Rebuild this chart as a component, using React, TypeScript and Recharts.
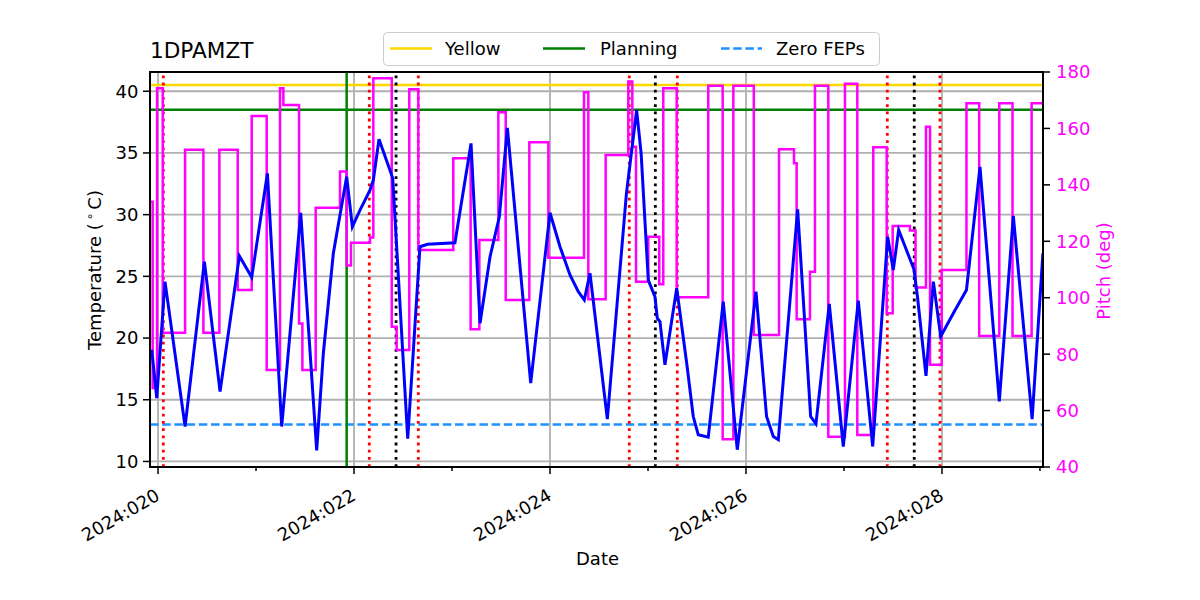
import React from 'react';
import { ComposedChart, Line, XAxis, YAxis, CartesianGrid, ReferenceLine } from 'recharts';

// ---- data (day of year 2024) ----
const tempDays = [
  19.936, 19.987, 20.071, 20.276, 20.473, 20.633, 20.83, 20.956, 21.116, 21.262,
  21.456, 21.619, 21.687, 21.789, 21.925, 21.983, 22.061, 22.163, 22.197, 22.255,
  22.367, 22.395, 22.548, 22.673, 22.75, 23.03, 23.194, 23.286, 23.388, 23.483,
  23.565, 23.803, 24.0, 24.102, 24.204, 24.289, 24.35, 24.408, 24.585, 24.78,
  24.884, 24.93, 25.003, 25.071, 25.095, 25.122, 25.173, 25.293, 25.395, 25.462,
  25.513, 25.615, 25.768, 25.911, 26.102, 26.21, 26.279, 26.33, 26.527, 26.66,
  26.714, 26.85, 26.993, 27.146, 27.293, 27.446, 27.503, 27.558, 27.714, 27.75,
  27.837, 27.912, 27.987, 28.116, 28.25, 28.388, 28.585, 28.728, 28.92, 29.03,
];
const tempValues = [
  19.04, 15.13, 24.57, 12.83, 26.19, 15.67, 26.65, 24.92, 33.34, 12.83,
  30.15, 10.89, 18.77, 26.87, 33.07, 29.02, 30.37, 31.99, 32.8, 36.12,
  33.6, 32.94, 11.84, 27.4, 27.6, 27.72, 35.77, 21.2, 26.59, 29.83,
  37.03, 16.35, 30.15, 27.4, 25.11, 23.76, 23.09, 25.25, 13.43, 31.72,
  38.46, 34.96, 24.7, 23.35, 21.6, 21.33, 17.83, 24.03, 17.96, 13.64,
  12.16, 11.97, 22.95, 10.95, 23.76, 13.64, 12.02, 11.76, 30.43, 13.64,
  13.05, 22.76, 11.21, 23.03, 11.21, 28.21, 25.51, 28.75, 25.57, 23.35,
  16.94, 24.57, 20.12, 22.01, 23.9, 33.87, 14.86, 29.89, 13.43, 26.87,
];

const pitchDays = [
  19.918, 19.945, 19.99, 20.048, 20.276, 20.463, 20.626, 20.813, 20.956, 21.109,
  21.245, 21.279, 21.439, 21.473, 21.609, 21.857, 21.925, 21.969, 22.163, 22.197,
  22.385, 22.435, 22.564, 22.656, 23.013, 23.19, 23.279, 23.473, 23.548, 23.789,
  23.983, 24.347, 24.391, 24.568, 24.799, 24.84, 24.878, 25.003, 25.115, 25.156,
  25.293, 25.615, 25.762, 25.871, 26.08, 26.337, 26.49, 26.517, 26.653, 26.704,
  26.84, 27.01, 27.136, 27.299, 27.436, 27.497, 27.673, 27.73, 27.837, 27.878,
  27.997, 28.25, 28.38, 28.585, 28.72, 28.915, 29.031,
];
const pitchValues = [
  134, 68, 174.2, 87.6, 152.4, 87.6, 152.4, 102.7, 164.4, 74.4,
  174.2, 168.3, 90.9, 74.4, 131.9, 144.7, 111.4, 119.5, 121.3, 177.8,
  89.7, 81.5, 173.9, 116.9, 149.4, 88.8, 120.5, 165.7, 99.2, 155.1,
  114.2, 172.8, 99.5, 150.6, 176.6, 153.5, 105.7, 121.6, 104.8, 174.2,
  100.2, 175.1, 49.8, 175.1, 86.8, 152.6, 147.7, 92.4, 109.2, 175.1,
  50.7, 175.8, 51.3, 153.3, 94.5, 125.4, 123.8, 103.6, 160.6, 76.2,
  109.8, 168.9, 86.4, 168.9, 86.4, 168.9, 168.9,
];

const xTicks = [20, 21, 22, 23, 24, 25, 26, 27, 28, 29];
const gridDays = [20, 22, 24, 26, 28];
const tempTicks = [10, 15, 20, 25, 30, 35, 40];
const pitchTicks = [40, 60, 80, 100, 120, 140, 160, 180];
const redEventDays = [20.054, 22.156, 22.656, 24.809, 25.299, 27.442, 27.98];
const blackEventDays = [22.429, 25.075, 27.717];
const planningDay = 21.925;
const yellowLimit = 40.5;
const planningLimit = 38.5;
const zeroFepsLimit = 13;

const xDomain = [19.918, 29.031];
const tempDomain = [9.55, 41.56];
const pitchDomain = [40, 180];

const tempData = tempDays.map((d, i) => ({ d, v: tempValues[i] }));
const pitchData = pitchDays.map((d, i) => ({ d, v: pitchValues[i] }));

const FONT = 'DejaVu Sans';

const DateTick = (props: any) => {
  const { x, y, payload } = props;
  const major = payload.value % 2 === 0;
  const tx = x + 3;
  const ty = y + 32;
  return (
    <g>
      <line x1={x} x2={x} y1={y} y2={y + (major ? 7 : 4)} stroke="#000" strokeWidth={1.5} />
      {major && (
        <text
          x={tx}
          y={ty}
          textAnchor="end"
          transform={`rotate(-30, ${tx}, ${ty})`}
          fontSize={18}
          fontFamily={FONT}
          fill="#000"
        >
          {`2024:${String(payload.value).padStart(3, '0')}`}
        </text>
      )}
    </g>
  );
};

export default function App() {
  return (
    <div style={{ position: 'absolute', left: 0, top: 0, width: 1200, height: 600, background: '#fff' }}>
      <ComposedChart
        width={1200}
        height={600}
        margin={{ top: 72, right: 97, bottom: 53, left: 90 }}
      >
        <CartesianGrid
          yAxisId="t"
          stroke="#b0b0b0"
          strokeWidth={1.8}
          horizontalValues={tempTicks}
          verticalValues={gridDays}
        />
        <XAxis
          dataKey="d"
          type="number"
          domain={xDomain}
          allowDataOverflow
          ticks={xTicks}
          interval={0}
          tick={<DateTick />}
          tickLine={false}
          tickSize={0}
          tickMargin={0}
          axisLine={false}
          height={80}
        />
        <YAxis
          yAxisId="t"
          orientation="left"
          type="number"
          domain={tempDomain}
          allowDataOverflow
          ticks={tempTicks}
          interval={0}
          width={60}
          tickSize={7}
          tickMargin={4.5}
          axisLine={false}
          tickLine={{ stroke: '#000', strokeWidth: 1.5 }}
          tick={{ fill: '#000', fontSize: 18, fontFamily: FONT }}
        />
        <YAxis
          yAxisId="p"
          orientation="right"
          type="number"
          domain={pitchDomain}
          allowDataOverflow
          ticks={pitchTicks}
          interval={0}
          width={60}
          tickSize={7}
          tickMargin={6}
          axisLine={false}
          tickLine={{ stroke: '#000', strokeWidth: 1.5 }}
          tick={{ fill: '#ff00ff', fontSize: 18, fontFamily: FONT }}
        />
        <ReferenceLine yAxisId="t" y={yellowLimit} stroke="#ffd700" strokeWidth={2.5} />
        <ReferenceLine yAxisId="t" y={planningLimit} stroke="#008000" strokeWidth={2.5} />
        <ReferenceLine yAxisId="t" y={zeroFepsLimit} stroke="#1e90ff" strokeWidth={2.5} strokeDasharray="8.5 3.7" />
        <ReferenceLine yAxisId="t" x={planningDay} stroke="#008000" strokeWidth={2.5} />
        {redEventDays.map((d) => (
          <ReferenceLine key={`r${d}`} yAxisId="t" x={d} stroke="#ff0000" strokeWidth={2.8} strokeDasharray="2.8 4.4" />
        ))}
        {blackEventDays.map((d) => (
          <ReferenceLine key={`k${d}`} yAxisId="t" x={d} stroke="#000000" strokeWidth={2.8} strokeDasharray="2.8 4.4" />
        ))}
        <Line
          yAxisId="p"
          data={pitchData}
          dataKey="v"
          type="stepAfter"
          stroke="#ff00ff"
          strokeWidth={2.5}
          dot={false}
          activeDot={false}
          isAnimationActive={false}
        />
        <Line
          yAxisId="t"
          data={tempData}
          dataKey="v"
          type="linear"
          stroke="#0000ff"
          strokeWidth={3}
          dot={false}
          activeDot={false}
          isAnimationActive={false}
        />
      </ComposedChart>
      <svg
        width={1200}
        height={600}
        style={{ position: 'absolute', left: 0, top: 0, pointerEvents: 'none' }}
        fontFamily={FONT}
      >
        <rect x={150} y={72} width={893} height={395} fill="none" stroke="#000" strokeWidth={2} />
        <text x={150} y={57.5} fontSize={21.6} fill="#000">1DPAMZT</text>
        <g>
          <rect x={383.5} y={32.5} width={496} height={33} rx={4} ry={4} fill="#fff" fillOpacity={0.8} stroke="#cccccc" strokeWidth={1} />
          <line x1={390} x2={432} y1={48.5} y2={48.5} stroke="#ffd700" strokeWidth={2.5} />
          <text x={445} y={55} fontSize={18} fill="#000">Yellow</text>
          <line x1={543} x2={585} y1={48.5} y2={48.5} stroke="#008000" strokeWidth={2.5} />
          <text x={600} y={55} fontSize={18} fill="#000">Planning</text>
          <line x1={721} x2={762} y1={48.5} y2={48.5} stroke="#1e90ff" strokeWidth={2.5} strokeDasharray="8.5 3.7" />
          <text x={776} y={55} fontSize={18} fill="#000">Zero FEPs</text>
        </g>
        <text x={101} y={270} fontSize={18} fill="#000" textAnchor="middle" transform="rotate(-90, 101, 270)">
          Temperature (<tspan dx={3} dy={-7} fontSize={12}>∘</tspan><tspan dx={3} dy={7}>C)</tspan>
        </text>
        <text x={1110} y={271} fontSize={18} fill="#ff00ff" textAnchor="middle" transform="rotate(-90, 1110, 271)">
          Pitch (deg)
        </text>
        <text x={597.5} y={565} fontSize={18} fill="#000" textAnchor="middle">Date</text>
      </svg>
    </div>
  );
}
